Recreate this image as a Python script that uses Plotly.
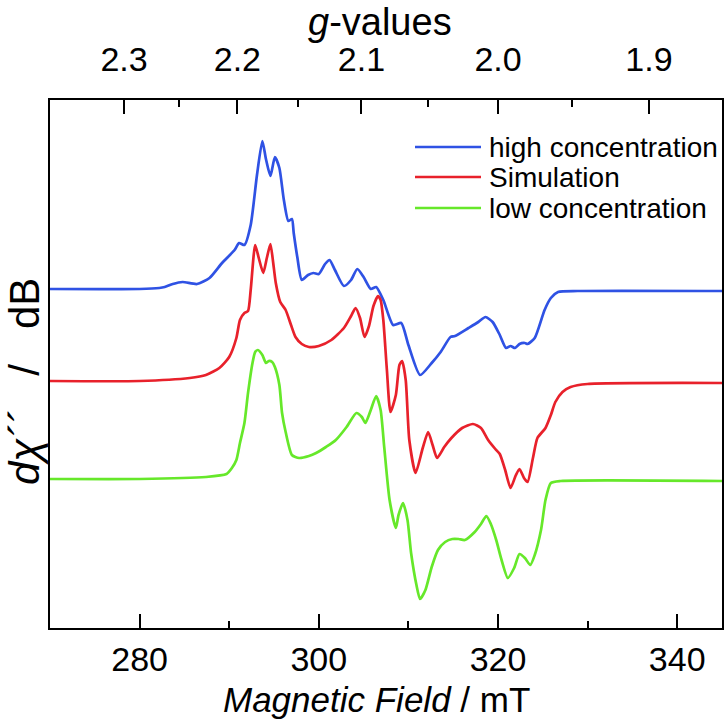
import plotly.graph_objects as go

# ---------------- data ----------------
# Magnetic field (mT) and first-derivative intensity (arb. units, relative to each baseline)
blue_B = [270.0, 280.0, 282.2, 282.8, 283.7, 284.8, 286.4, 287.8, 289.2, 290.6, 291.1, 291.7,
          292.4, 293.1, 293.7, 294.1, 294.6, 295.1, 295.6, 296.1, 296.6, 297.0, 297.2, 297.6,
          298.1, 298.8, 299.4, 300.0, 300.7, 301.2, 301.8, 302.8, 303.6, 304.3, 305.0, 305.8,
          306.4, 307.2, 308.3, 309.2, 310.0, 311.3, 312.6, 313.6, 314.7, 315.2, 316.7, 317.8,
          318.6, 319.4, 320.2, 320.9, 321.4, 321.9, 322.4, 323.0, 323.3, 324.1, 325.2, 325.9,
          326.7, 328.9, 345.0]
blue_I = [0, 0, 1, 2, 5, 7, 5, 11, 26, 39, 46, 44,
          64, 114, 148, 130, 113, 132, 121, 89, 68, 70, 56, 32,
          9, 14, 16, 15, 25, 29, 19, 3, 9, 20, 12, 0,
          2, -11, -36, -34, -56, -86, -74, -63, -48, -47, -39, -33,
          -28, -33, -46, -59, -57, -59, -55, -54, -55, -49, -21, -9,
          -3, -2, -2]

sim_B = [270.0, 280.0, 285.6, 287.4, 288.9, 290.0, 290.8, 291.2, 291.7, 292.1, 292.4, 292.9,
         293.3, 293.8, 294.2, 294.6, 294.9, 295.2, 295.7, 296.3, 296.9, 297.4, 298.1, 298.9,
         300.0, 301.4, 302.8, 303.6, 304.1, 304.6, 305.1, 305.6, 306.1, 306.6, 306.9, 307.2,
         307.6, 308.0, 308.6, 309.0, 309.3, 309.7, 310.1, 310.8, 311.6, 312.2, 312.7, 313.2,
         314.0, 314.8, 316.0, 317.2, 318.1, 318.9, 319.7, 320.2, 320.8, 321.4, 322.0, 322.4,
         322.9, 323.3, 323.9, 324.4, 325.3, 325.9, 326.4, 327.2, 328.1, 330.0, 345.0]
sim_I = [0, 0, 3, 6, 13, 24, 43, 61, 68, 70, 91, 136,
         123, 108, 123, 137, 119, 98, 79, 71, 56, 44, 37, 34,
         35, 41, 53, 65, 73, 63, 44, 55, 75, 85, 81, 61,
         11, -31, -14, 16, 20, 1, -59, -92, -67, -51, -64, -77,
         -66, -57, -47, -43, -47, -59, -68, -73, -89, -107, -94, -88,
         -97, -101, -77, -57, -47, -34, -21, -11, -6, -3, -2]

low_B = [270.0, 280.0, 287.4, 289.7, 290.3, 290.8, 291.2, 291.7, 292.1, 292.6, 292.9, 293.2,
         293.7, 294.1, 294.4, 294.8, 295.1, 295.6, 295.9, 296.3, 297.0, 297.8, 298.9, 299.7,
         300.8, 301.9, 303.1, 304.2, 304.8, 305.2, 305.8, 306.4, 306.9, 307.3, 307.9, 308.6,
         308.9, 309.4, 309.9, 310.3, 310.9, 311.3, 311.9, 312.6, 313.3, 314.1, 314.9, 315.6,
         316.3, 317.4, 318.1, 318.7, 319.2, 319.8, 320.4, 321.1, 321.8, 322.4, 323.0, 323.6,
         324.1, 324.8, 325.3, 325.9, 327.0, 345.0]
low_I = [0, 0, 2, 5, 11, 19, 36, 56, 86, 116, 127, 129,
         124, 116, 118, 117, 112, 94, 66, 47, 24, 21, 23, 26,
         32, 39, 52, 66, 62, 56, 69, 83, 69, 32, -21, -49,
         -36, -24, -41, -74, -106, -120, -111, -88, -71, -63, -60, -60,
         -61, -53, -45, -37, -45, -61, -81, -99, -89, -75, -79, -86,
         -76, -51, -21, -4, -2, -2]

series_names = ["high concentration", "Simulation", "low concentration"]
series_offsets = [339, 247, 149]          # vertical stacking offsets
series_colors = ["#2f52e4", "#e8212b", "#66e82a"]

# top axis: g-values, converted with B = 640 / g  (mT, ~8.96 GHz)
g_major = [2.3, 2.2, 2.1, 2.0, 1.9]
g_minor = [2.25, 2.15, 2.05, 1.95]
G_CONST = 640.0

x_major = [280, 300, 320, 340]
x_minor = [290, 310, 330]

# ---------------- figure ----------------
FONT = "Liberation Sans, Arial, sans-serif"
fig = go.Figure()
data = [(blue_B, blue_I), (sim_B, sim_I), (low_B, low_I)]
for (B, I), name, off, col in zip(data, series_names, series_offsets, series_colors):
    fig.add_trace(go.Scatter(
        x=B, y=[v + off for v in I], mode="lines", name=name,
        line=dict(color=col, width=2.7, shape="spline", smoothing=0.6),
        showlegend=False, hoverinfo="skip"))

# invisible copy on the top axis so it is drawn
fig.add_trace(go.Scatter(x=blue_B, y=[v + series_offsets[0] for v in blue_I],
                         xaxis="x2", mode="lines", line=dict(width=0),
                         opacity=0, showlegend=False, hoverinfo="skip"))

L, R, T, Bm = 50, 4, 100, 93
W, H = 726, 721
pw, ph = W - L - R, H - T - Bm

def px_x(p):
    return (p - L) / pw

def px_y(p):
    return (H - Bm - p) / ph

axis_common = dict(
    range=[270, 345], showgrid=False, zeroline=False, automargin=False,
    showline=True, linecolor="black", linewidth=2.4,
    ticks="inside", ticklen=14, tickwidth=2.2, tickcolor="black",
    tickfont=dict(size=34, family=FONT),
)

fig.update_layout(
    width=W, height=H,
    margin=dict(l=L, r=R, t=T, b=Bm),
    paper_bgcolor="white", plot_bgcolor="white",
    font=dict(family=FONT, color="black", size=28),
    xaxis=dict(
        **axis_common,
        tickmode="array", tickvals=x_major, ticktext=[str(v) for v in x_major],
        ticklabelstandoff=0,
        minor=dict(tickmode="array", tickvals=x_minor, ticks="inside", ticklen=7,
                   tickwidth=2.2, tickcolor="black"),
    ),
    xaxis2=dict(
        **axis_common,
        overlaying="x", side="top", anchor="y",
        tickmode="array", tickvals=[G_CONST / g for g in g_major],
        ticktext=[f"{g:.1f}" for g in g_major],
        ticklabelstandoff=13,
        minor=dict(tickmode="array", tickvals=[G_CONST / g for g in g_minor], ticks="inside",
                   ticklen=7, tickwidth=2.2, tickcolor="black"),
    ),
    yaxis=dict(
        range=[0, ph], showgrid=False, zeroline=False, showticklabels=False,
        automargin=False,
        showline=True, linecolor="black", linewidth=2.4, mirror=True, ticks="",
    ),
)

# axis titles
fig.add_annotation(xref="paper", yref="paper", x=px_x(376), y=px_y(700),
                   text="<i>Magnetic Field</i> / mT", showarrow=False,
                   xanchor="center", yanchor="middle", font=dict(size=35, family=FONT))
fig.add_annotation(xref="paper", yref="paper", x=px_x(380), y=px_y(22),
                   text="<i>g</i>-values", showarrow=False,
                   xanchor="center", yanchor="middle", font=dict(size=38, family=FONT))
fig.add_annotation(xref="paper", yref="paper", x=px_x(24), y=px_y(382),
                   text="<i>dχ´´</i>   /   dB", showarrow=False, textangle=-90,
                   xanchor="center", yanchor="middle", font=dict(size=42, family=FONT))

# manual legend (line samples + labels), in paper coordinates
leg_y_px = [147, 177, 208]
for name, col, ypx in zip(series_names, series_colors, leg_y_px):
    yp = px_y(ypx)
    fig.add_shape(type="line", xref="paper", yref="paper",
                  x0=px_x(415), x1=px_x(481), y0=yp, y1=yp,
                  line=dict(color=col, width=2.7))
    fig.add_annotation(xref="paper", yref="paper", x=px_x(487), y=yp,
                       text=name, showarrow=False, xanchor="left", yanchor="middle",
                       font=dict(size=28, family=FONT))

fig.write_html("out.html", config={"displayModeBar": False},
               post_script="document.body.style.margin='0';document.body.style.overflow='hidden';")
